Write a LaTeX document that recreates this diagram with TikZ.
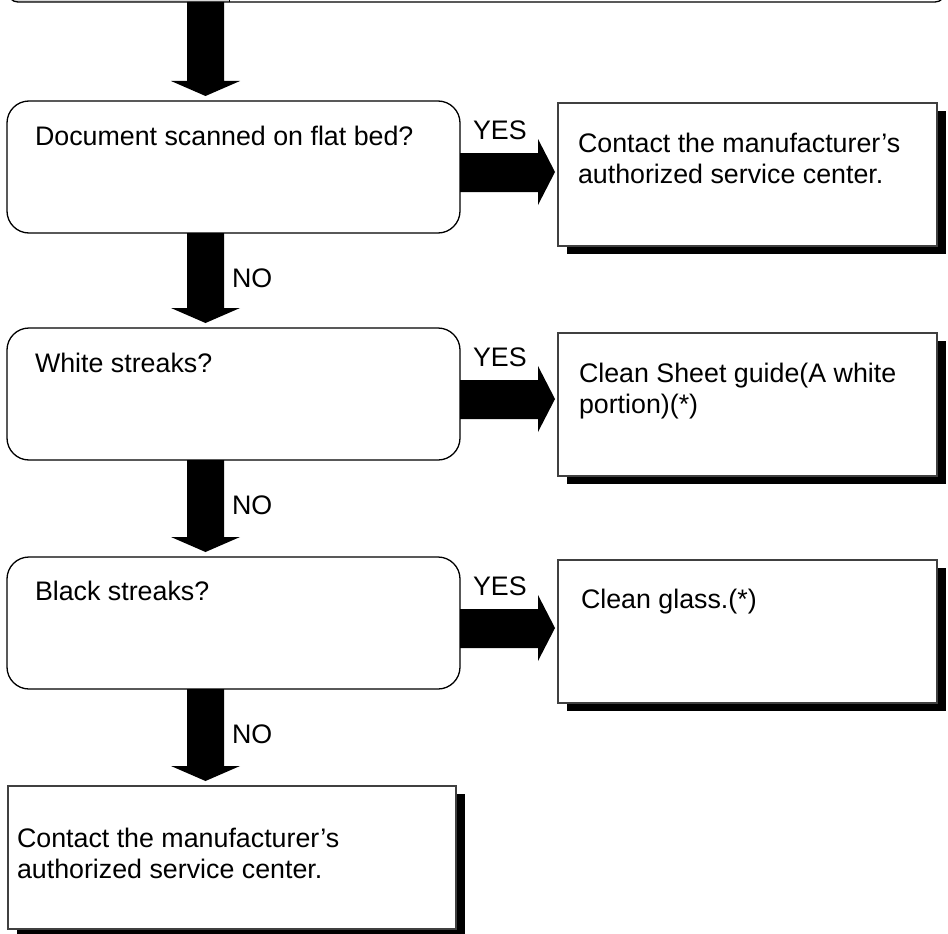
\documentclass[tikz,border=0pt]{standalone}
\usepackage{fontspec}
\setmainfont{Liberation Sans}
\usetikzlibrary{calc,shadows}
\begin{document}
\begin{tikzpicture}[x=1pt,y=-1pt,
  rbox/.style={draw=black, line width=1.3pt, rounded corners=22pt, minimum width=453pt, minimum height=132pt, anchor=north west, inner sep=0pt, outer sep=0pt, fill=white},
  sbox/.style={draw=black!75, line width=1.2pt, fill=white, minimum width=379pt, minimum height=143pt, anchor=north west, inner sep=0pt, outer sep=0pt, drop shadow={shadow xshift=9pt, shadow yshift=-8pt, fill=black, opacity=1}},
  txt/.style={anchor=base west, inner sep=0pt, outer sep=0pt, font=\fontsize{26.8}{31}\selectfont},
  blk/.style={fill=black}]
\useasboundingbox (0,0) rectangle (948,934);
\clip (0,0) rectangle (948,934);

% top (cut-off) box
\begin{scope}
  \clip[rounded corners=10pt] (8,-60) rectangle (945,2);
  \fill[black!15] (8,-60) rectangle (229,2);
\end{scope}
\node[draw=black, line width=1.3pt, rounded corners=10pt, minimum width=937pt, minimum height=62pt, anchor=south west, inner sep=0pt, outer sep=0pt] (top) at (8,2) {};
\draw[line width=1pt] (229,-60) -- (229,2);

% question boxes
\node[rbox] (q1) at (7,101) {};
\node[rbox] (q2) at (7,328) {};
\node[rbox] (q3) at (7,557) {};

% answer boxes
\node[sbox] (a1) at (558,103) {};
\node[sbox] (a2) at (558,333) {};
\node[sbox] (a3) at (558,560) {};
\node[sbox, minimum width=448pt] (a4) at (8,786) {};

% texts
\node[txt] (t1) at ($(q1.north west)+(28,44)$) {Document scanned on flat bed?};
\node[txt] (t2) at ($(q2.north west)+(28,44)$) {White streaks?};
\node[txt] (t3) at ($(q3.north west)+(28,43)$) {Black streaks?};

\node[txt] (u1a) at ($(a1.north west)+(20,49)$) {Contact the manufacturer’s};
\node[txt] (u1b) at ($(a1.north west)+(20,80)$) {authorized service center.};
\node[txt] (u2a) at ($(a2.north west)+(21,49)$) {Clean Sheet guide(A white};
\node[txt] (u2b) at ($(a2.north west)+(21,80)$) {portion)(*)};
\node[txt] (u3a) at ($(a3.north west)+(23,48)$) {Clean glass.(*)};
\node[txt] (u4a) at ($(a4.north west)+(9,61)$) {Contact the manufacturer’s};
\node[txt] (u4b) at ($(a4.north west)+(9,92)$) {authorized service center.};

% YES labels
\foreach \q/\n in {q1/y1,q2/y2,q3/y3}
  \node[txt] (\n) at ($(\q.north east)+(13,38)$) {YES};
% NO labels
\foreach \q/\n in {q1/n1,q2/n2,q3/n3}
  \node[txt] (\n) at ($(\q.south west)+(225,54)$) {NO};

% down block arrows
\foreach \u/\v in {top/q1,q1/q2,q2/q3,q3/a4}
  \fill[blk] let \p1=(\u.south), \p2=(\v.north) in
    (187pt,\y1) -- (224pt,\y1) -- (224pt,\y2+20pt) -- (240pt,\y2+20pt)
    -- (205.5pt,\y2+5pt) -- (171pt,\y2+20pt) -- (187pt,\y2+20pt) -- cycle;

% right block arrows
\foreach \q/\a in {q1/a1,q2/a2,q3/a3}
  \fill[blk] let \p1=(\q.north east), \p2=(\a.west) in
    (\x1,\y1-52pt) -- (\x2-20pt,\y1-52pt) -- (\x2-20pt,\y1-38pt)
    -- (\x2-3pt,\y1-71pt) -- (\x2-20pt,\y1-104pt) -- (\x2-20pt,\y1-91pt)
    -- (\x1,\y1-91pt) -- cycle;
\end{tikzpicture}
\end{document}
